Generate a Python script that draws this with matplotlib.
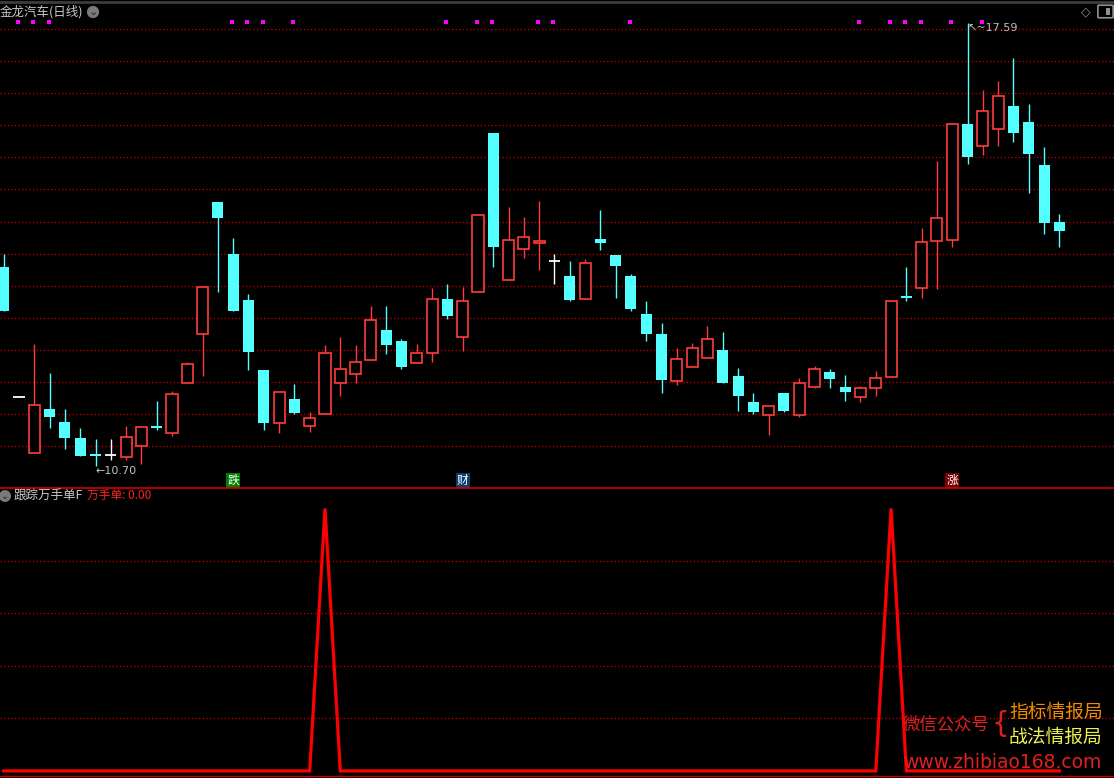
import numpy as np
import matplotlib
matplotlib.use('Agg')
import matplotlib.pyplot as plt
from matplotlib.patches import FancyBboxPatch

plt.rcParams['font.family'] = ['Noto Sans CJK SC', 'DejaVu Sans']

# daily candles
opens = [13.79, 11.76, 10.89, 11.58, 11.38, 11.13, 10.88, 10.86, 10.84, 11.01,
         11.31, 11.21, 11.98, 12.75, 14.81, 14.00, 13.28, 12.19, 11.36, 11.74,
         11.32, 11.50, 11.98, 12.12, 12.34, 12.81, 12.64, 12.30, 12.46, 13.29,
         12.71, 13.40, 15.88, 13.59, 14.08, 14.16, 13.88, 13.65, 13.30, 14.23,
         13.98, 13.65, 13.06, 12.75, 12.01, 12.23, 12.37, 12.50, 12.10, 11.69,
         11.48, 11.83, 11.48, 11.93, 12.15, 11.92, 11.76, 11.90, 12.08, 13.34,
         13.46, 14.19, 14.21, 16.02, 15.68, 15.94, 16.30, 16.05, 15.38, 14.49]
closes = [13.10, 11.76, 11.64, 11.45, 11.13, 10.85, 10.85, 10.86, 11.14, 11.30,
          11.29, 11.81, 12.28, 13.48, 14.56, 13.10, 12.47, 11.37, 11.84, 11.52,
          11.44, 12.46, 12.21, 12.32, 12.96, 12.58, 12.24, 12.45, 13.29, 13.03,
          13.26, 14.60, 14.11, 14.22, 14.26, 14.18, 13.88, 13.28, 13.85, 14.17,
          13.81, 13.14, 12.75, 12.04, 12.36, 12.53, 12.67, 11.99, 11.79, 11.54,
          11.63, 11.55, 11.98, 12.21, 12.05, 11.85, 11.90, 12.06, 13.27, 13.33,
          14.18, 14.55, 16.02, 15.50, 16.23, 16.45, 15.88, 15.56, 14.48, 14.36]
highs = [14.00, 11.76, 12.59, 12.14, 11.58, 11.28, 11.11, 11.11, 11.32, 11.30,
         11.71, 11.86, 12.31, 13.48, 14.81, 14.24, 13.37, 12.19, 11.84, 11.97,
         11.53, 12.57, 12.70, 12.57, 13.19, 13.19, 12.67, 12.59, 13.46, 13.53,
         13.48, 14.60, 15.88, 14.73, 14.57, 14.82, 14.00, 13.89, 13.92, 14.68,
         13.98, 13.68, 13.26, 12.92, 12.53, 12.61, 12.87, 12.78, 12.22, 11.83,
         11.63, 11.83, 12.06, 12.25, 12.21, 12.11, 11.94, 12.17, 13.27, 13.79,
         14.40, 15.45, 16.02, 17.59, 16.55, 16.69, 17.05, 16.33, 15.66, 14.62]
lows = [13.10, 11.76, 10.89, 11.29, 10.96, 10.85, 10.70, 10.78, 10.78, 10.72,
        11.25, 11.16, 11.98, 12.10, 13.41, 13.10, 12.19, 11.25, 11.21, 11.50,
        11.22, 11.50, 11.79, 11.99, 12.34, 12.44, 12.21, 12.30, 12.32, 12.99,
        12.48, 13.40, 13.80, 13.59, 13.94, 13.74, 13.53, 13.27, 13.30, 14.05,
        13.31, 13.10, 12.64, 11.83, 11.96, 12.23, 12.37, 11.99, 11.55, 11.50,
        11.17, 11.54, 11.45, 11.91, 11.91, 11.71, 11.69, 11.79, 12.08, 13.27,
        13.31, 13.45, 14.11, 15.39, 15.53, 15.68, 15.74, 14.95, 14.31, 14.11]

# magenta markers on top, and the three signal labels
dot_days = [1, 2, 3, 15, 16, 17, 19, 29, 31, 32, 35, 36, 41, 56, 58, 59, 60, 62, 64]
sig_days = [15, 30, 62]
sig_text = ['跌', '财', '涨']
sig_bg = ['#008000', '#0a3c6e', '#7a0000']

# indicator panel
wan = [0.0] * 70
wan[21] = 1.0
wan[58] = 1.0

RED = '#ff3c3c'
CYAN = '#54ffff'
GRID = '#b00000'

W, H = 1114, 778
fig = plt.figure(figsize=(W / 100, H / 100), dpi=100, facecolor='black')


def fx(x):
    return x / W


def fy(y):
    return 1 - y / H


ax = fig.add_axes([0, fy(488), 1, 488 / H], facecolor='black')
ax2 = fig.add_axes([0, 0, 1, 290 / H], facecolor='black')
for a in (ax, ax2):
    a.set_xlim(-0.242, 72.57)
    for s in a.spines.values():
        s.set_visible(False)
    a.set_xticks([])
    a.set_yticks([])

ax.set_ylim(10.35, 17.952)
ax2.set_ylim(-0.027, 1.078)

for g in np.arange(11.0, 17.51, 0.5):
    ax.axhline(g, color=GRID, lw=1, ls=(0, (1, 1.6)), zorder=0)
for g in [0.2, 0.4, 0.6, 0.8]:
    ax2.axhline(g, color=GRID, lw=1, ls=(0, (1, 1.6)), zorder=0)

x = np.arange(len(opens))
o = np.array(opens)
c = np.array(closes)
hi = np.array(highs)
lo = np.array(lows)
up = c > o
dn = c < o
eq = c == o
bw = 0.72

ax.vlines(x[up], lo[up], hi[up], color=RED, lw=1, zorder=1)
ax.vlines(x[dn], lo[dn], hi[dn], color=CYAN, lw=1, zorder=1)
ax.vlines(x[eq], lo[eq], hi[eq], color='white', lw=1, zorder=1)

ax.bar(x[up], np.maximum(c[up] - o[up], 0.03), bottom=o[up], width=bw,
       facecolor='black', edgecolor=RED, lw=1.2, zorder=2)
ax.bar(x[dn], np.minimum(c[dn] - o[dn], -0.03), bottom=o[dn], width=bw,
       color=CYAN, lw=0, zorder=2)
ax.hlines(o[eq], x[eq] - bw / 2, x[eq] + bw / 2, color='white', lw=1.3, zorder=2)

ax.plot(np.array(dot_days) - 0.07, [17.61] * len(dot_days), ls='none', marker='s',
        ms=3.2, color='#ff00ff', mew=0)

for d, t, bg in zip(sig_days, sig_text, sig_bg):
    ax.text(d, 10.47, t, color='white', fontsize=8.5, ha='center', va='center',
            bbox=dict(boxstyle='square,pad=0.1', fc=bg, ec='none'))

imin = int(np.argmin(lo))
imax = int(np.argmax(hi))
ax.text(imin, lo[imin], '←' + '%.2f' % lo[imin], color='#c0c0c0', fontsize=8,
        ha='left', va='top', family=['DejaVu Sans'])
ax.text(imax, hi[imax], '↖~' + '%.2f' % hi[imax], color='#c0c0c0', fontsize=8,
        ha='left', va='top', family=['DejaVu Sans'])

# indicator line
ax2.plot(x, wan, color='#ff0000', lw=2.3, solid_joinstyle='miter')

# frame lines
fig.add_artist(plt.Line2D([0, 1], [fy(488), fy(488)], color='#d00000', lw=1.2))
fig.add_artist(plt.Line2D([0, 1], [fy(776), fy(776)], color='#d00000', lw=1))
fig.add_artist(plt.Line2D([0, 1], [fy(1.5), fy(1.5)], color='#3c3c3c', lw=2))

# headers
fig.text(fx(0), fy(12), '金龙汽车(日线)', color='#c8c8c8', fontsize=9, va='center')
fig.text(fx(93), fy(12), '⌄', color='#222222', fontsize=8, ha='center', va='center',
         family=['DejaVu Sans'],
         bbox=dict(boxstyle='circle,pad=0.1', fc='#7a7a7a', ec='none'))
fig.text(fx(5), fy(496), '⌄', color='#222222', fontsize=7, ha='center', va='center',
         family=['DejaVu Sans'],
         bbox=dict(boxstyle='circle,pad=0.1', fc='#7a7a7a', ec='none'))
fig.text(fx(14), fy(496), '跟踪万手单F', color='#c8c8c8', fontsize=9, va='center')
fig.text(fx(87), fy(496), '万手单: 0.00', color='#ff2020', fontsize=8.5, va='center')

# top-right icons
fig.text(fx(1086), fy(12), '◇', color='#909090', fontsize=9, ha='center', va='center',
         family=['DejaVu Sans'])
fig.add_artist(FancyBboxPatch((fx(1099), fy(17)), fx(13), 11 / H,
                              boxstyle='round,pad=0.001', fc='none', ec='#909090', lw=1.2))
fig.add_artist(plt.Rectangle((fx(1106), fy(15)), fx(4), 7 / H, fc='#909090', ec='none'))

# watermark
fig.text(fx(903), fy(724), '微信公众号', color='#e02020', fontsize=12.5, va='center')
fig.text(fx(992), fy(724), '{', color='#e02020', fontsize=20, va='center',
         family=['DejaVu Sans'])
fig.text(fx(1009), fy(712), '指标情报局', color='#f08c00', fontsize=13.5, va='center')
fig.text(fx(1009), fy(737), '战法情报局', color='#f0f050', fontsize=13.5, va='center')
fig.text(fx(903), fy(762), 'www.zhibiao168.com', color='#e02020', fontsize=13.5,
         va='center', family=['DejaVu Sans'])

fig.savefig('out.png', dpi=100, facecolor='black')
